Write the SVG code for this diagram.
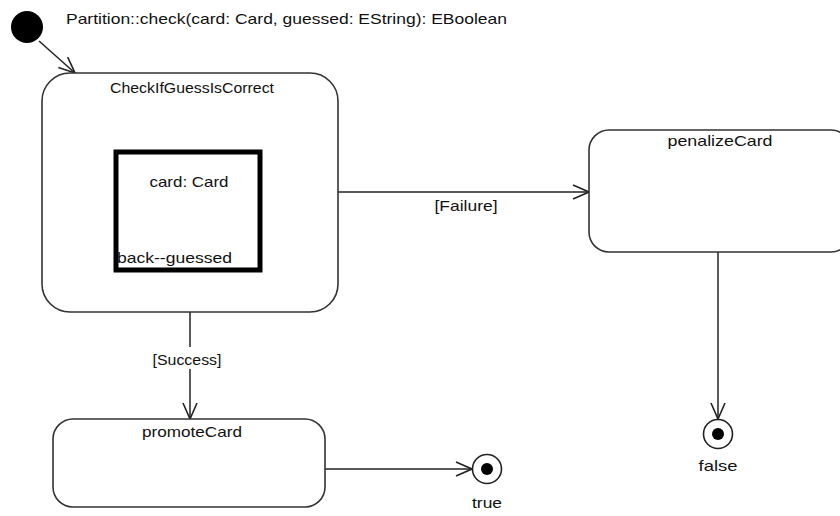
<svg xmlns="http://www.w3.org/2000/svg" width="840" height="516" viewBox="0 0 840 516">
<style>
text{font-family:"Liberation Sans",Arial,sans-serif;font-size:15px;fill:#111}
.st{fill:#fff;stroke:#333;stroke-width:1.6}
.c{text-anchor:middle}
.ln{fill:none;stroke:#222;stroke-width:1.5}
</style>
<defs>
<marker id="open" viewBox="0 0 18 16" refX="17" refY="8" markerWidth="18" markerHeight="16" markerUnits="userSpaceOnUse" orient="auto">
<path d="M1,1 L17,8 L1,15" fill="none" stroke="#222" stroke-width="1.6"/>
</marker>
</defs>
<rect width="840" height="516" fill="#fff"/>
<g id="initial">
<circle cx="27" cy="27" r="16" fill="#000"/>
</g>
<text x="66" y="24" textLength="441" lengthAdjust="spacingAndGlyphs">Partition::check(card: Card, guessed: EString): EBoolean</text>
<g id="connectors">
<line class="ln" x1="39" y1="41" x2="75" y2="73" marker-end="url(#open)"/>
<line class="ln" x1="338" y1="192" x2="589" y2="192" marker-end="url(#open)"/>
<text x="466" y="211" class="c" textLength="63" lengthAdjust="spacingAndGlyphs">[Failure]</text>
<line class="ln" x1="190" y1="312" x2="190" y2="347"/>
<line class="ln" x1="190" y1="369" x2="190" y2="419" marker-end="url(#open)"/>
<text x="187" y="365" class="c" textLength="69" lengthAdjust="spacingAndGlyphs">[Success]</text>
<line class="ln" x1="325" y1="469" x2="472" y2="469" marker-end="url(#open)"/>
<line class="ln" x1="718" y1="252" x2="718" y2="419" marker-end="url(#open)"/>
</g>
<g id="CheckIfGuessIsCorrect">
<rect class="st" x="42" y="73" width="296" height="239" rx="28"/>
<text x="192" y="93" class="c" textLength="164" lengthAdjust="spacingAndGlyphs">CheckIfGuessIsCorrect</text>
<g id="inner">
<rect x="116" y="152" width="144" height="118" fill="#fff" stroke="#000" stroke-width="5"/>
<text x="189" y="187" class="c" textLength="79" lengthAdjust="spacingAndGlyphs">card: Card</text>
<text x="117" y="263" textLength="115" lengthAdjust="spacingAndGlyphs">back--guessed</text>
</g>
</g>
<g id="penalizeCard">
<rect class="st" x="589" y="130" width="262" height="122" rx="20"/>
<text x="720" y="146" class="c" textLength="105" lengthAdjust="spacingAndGlyphs">penalizeCard</text>
</g>
<g id="promoteCard">
<rect class="st" x="53" y="419" width="272" height="88" rx="20"/>
<text x="192" y="437" class="c" textLength="100" lengthAdjust="spacingAndGlyphs">promoteCard</text>
</g>
<g id="final-true">
<circle cx="487" cy="469" r="14.5" fill="#fff" stroke="#222" stroke-width="1.6"/>
<circle cx="487" cy="469" r="6" fill="#000"/>
<text x="487" y="508" class="c" textLength="30" lengthAdjust="spacingAndGlyphs">true</text>
</g>
<g id="final-false">
<circle cx="718" cy="434" r="14.5" fill="#fff" stroke="#222" stroke-width="1.6"/>
<circle cx="718" cy="434" r="6" fill="#000"/>
<text x="718" y="471" class="c" textLength="39" lengthAdjust="spacingAndGlyphs">false</text>
</g>
</svg>
